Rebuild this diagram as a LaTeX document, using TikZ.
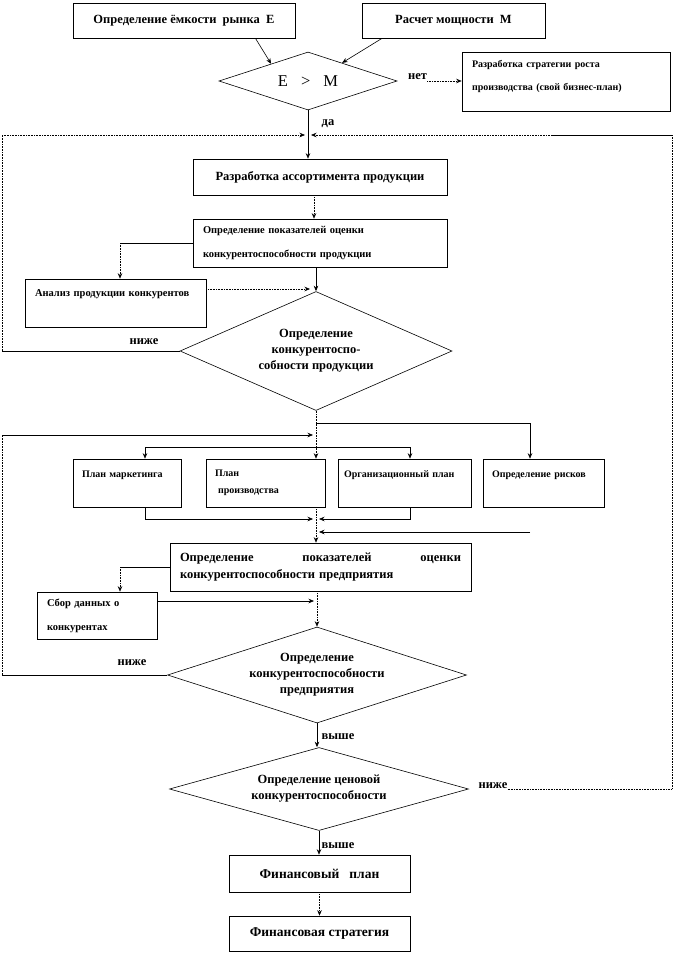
\documentclass[tikz,border=0pt]{standalone}
\usepackage{fontspec}
\setmainfont{Liberation Serif}
\usepackage{tikz}
\usetikzlibrary{shapes.geometric,arrows.meta}

\begin{document}
\begin{tikzpicture}[x=1pt,y=-1pt,
  box/.style={draw,line width=0.6pt,inner xsep=10pt,inner ysep=0pt,align=left},
  plan/.style={box,font=\fontsize{10}{17}\selectfont\bfseries,inner xsep=9pt,minimum height=48pt},
  decision/.style={draw,diamond,line width=0.6pt,inner sep=0pt,align=center},
  bigtxt/.style={font=\fontsize{12.5}{16}\selectfont\bfseries},
  smalltxt/.style={font=\fontsize{10.5}{#1}\selectfont\bfseries},
  smalltxt/.default=24,
  lbl/.style={font=\fontsize{12.5}{14}\selectfont\bfseries,inner sep=0pt},
  wire/.style={line width=0.6pt},
  dotwire/.style={wire,densely dotted},
  conn/.style={wire,-{Stealth[length=5.5pt,width=4.5pt]}},
  dotconn/.style={conn,densely dotted}]
  \useasboundingbox (0,0) rectangle (676,954);

  % upper part
  \node[box,bigtxt,minimum width=222pt,minimum height=35pt] (emk) at (184,20.5) {Определение ёмкости\ \ рынка\ \ E};
  \node[box,bigtxt,minimum width=183pt,minimum height=35pt] (moshch) at (453.5,20.5) {Расчет мощности\ \ M};
  \node[decision,aspect=3,minimum width=178pt,minimum height=58pt,font=\fontsize{16.5}{17}\selectfont] (cmp) at (308,81) {E\hspace{13pt}>\hspace{13pt}M};
  \node[box,font=\fontsize{10}{23}\selectfont\bfseries,text width=188pt,minimum height=59pt] (strat) at (566,81.5) {Разработка стратегии роста\\производства (свой бизнес-план)\\[-10pt]\mbox{}};
  \node[box,bigtxt,minimum width=254pt,minimum height=36pt] (asort) at (320,177) {Разработка ассортимента продукции};
  \node[box,smalltxt,text width=234pt,minimum height=48pt] (pok1) at (320,243) {Определение показателей оценки\\конкурентоспособности продукции};
  \node[box,smalltxt=20,text width=161pt,minimum height=48pt] (anal) at (115.5,303) {Анализ продукции конкурентов\\\mbox{}};
  \node[decision,bigtxt,aspect=2.3,minimum width=272pt,minimum height=119pt] (dprod) at (316,351) {Определение\\конкурентоспо-\\собности продукции};

  % plans
  \node[plan,text width=90pt] (mark) at (127,483) {План маркетинга\\\mbox{}};
  \node[plan,text width=101pt] (prodn) at (265.5,483) {План\\\hspace*{3pt}производства};
  \node[plan,inner xsep=6pt,text width=121pt] (org) at (404.5,483) {Организационный\ план\\\mbox{}};
  \node[plan,text width=103pt] (risk) at (543.5,483) {Определение рисков\\\mbox{}};

  % lower part
  \node[box,font=\fontsize{12.5}{17}\selectfont\bfseries,text width=281pt,minimum height=48pt] (pred) at (320.5,567) {Определение\hfill показателей\hfill оценки\\конкурентоспособности предприятия};
  \node[box,smalltxt,text width=100pt,minimum height=47pt] (sbor) at (97,615.5) {Сбор данных о\\конкурентах};
  \node[decision,bigtxt,aspect=3.1,minimum width=299pt,minimum height=96pt] (dpred) at (317,675) {Определение\\конкурентоспособности\\предприятия};
  \node[decision,bigtxt,aspect=3.6,minimum width=299pt,minimum height=83pt] (dprice) at (319,789) {Определение ценовой\\конкурентоспособности};
  \node[box,font=\fontsize{13.5}{15}\selectfont\bfseries,minimum width=181pt,minimum height=37pt] (fin) at (319.5,873.5) {Финансовый\ \ \ план};
  \node[box,font=\fontsize{13.5}{15}\selectfont\bfseries,minimum width=181pt,minimum height=35pt] (finstr) at (319.5,933.5) {Финансовая стратегия};

  % labels
  \node[lbl] (net) at (417.5,77) {нет};
  \node[lbl] (da) at (328,124) {да};
  \node[lbl] (nizhe1) at (144,342) {ниже};
  \node[lbl] (nizhe2) at (132,663) {ниже};
  \node[lbl] (vyshe1) at (338,737) {выше};
  \node[lbl] (nizhe3) at (493,786) {ниже};
  \node[lbl] (vyshe2) at (338,846) {выше};

  \coordinate (leftA) at (2,135);
  \coordinate (leftB) at (2,435);
  \coordinate (rightA) at (672,135);
  \coordinate (topgap) at (553,135);
  \coordinate (joinL) at (305,135);
  \coordinate (joinR) at (311,135);
  \coordinate (analin) at (310,289);
  \coordinate (loopin) at (313,435);
  \coordinate (inL) at (313,519);
  \coordinate (inR) at (319,519);
  \coordinate (inR2) at (319,532);
  \coordinate (riskout) at (530,532);
  \coordinate (sborin) at (314,601);
  \coordinate (analtop) at ([xshift=4.5pt]anal.north);
  \coordinate (sbortop) at ([xshift=23pt]sbor.north);
  \path (dprod.south) ++(0,12) coordinate (br) ++(0,24) coordinate (bp);

  \draw[conn] (emk.-14) -- (cmp.155);
  \draw[conn] (moshch.-166) -- (cmp.28);
  \draw[dotconn] (cmp.east -| net.east) -- (cmp.east -| strat.west);
  \draw[conn] (cmp.south) -- (cmp.south |- asort.north);
  \draw[wire] (dprod.west) -- (dprod.west -| leftA);
  \draw[dotwire] (dprod.west -| leftA) -- (leftA);
  \draw[dotconn] (leftA) -- (joinL);
  \draw[dotwire] (dprice.east -| nizhe3.east) -| (rightA);
  \draw[wire] (rightA) -- (topgap);
  \draw[dotconn] (topgap) -- (joinR);
  \draw[dotconn] ([xshift=-6pt]asort.south) -- ([xshift=-6pt]pok1.north);
  \draw[wire] (pok1.west) -- (pok1.west -| analtop);
  \draw[dotconn] (pok1.west -| analtop) -- (analtop);
  \draw[dotconn] (anal.east |- analin) -- (analin);
  \draw[conn] (pok1.south -| dprod.north) -- (dprod.north);

  \draw[dotconn] (dprod.south) -- (dprod.south |- prodn.north);
  \draw[conn] (br) -| ([xshift=-13.5pt]risk.north);
  \draw[conn] (bp) -| ([xshift=18pt]mark.north);
  \draw[conn] (bp) -| ([xshift=5.5pt]org.north);
  \draw[conn] ([xshift=18pt]mark.south) |- (inL);
  \draw[conn] ([xshift=5.5pt]org.south) |- (inR);
  \draw[conn] (riskout) -- (inR2);
  \draw[dotconn] (dprod.south |- prodn.south) -- (dprod.south |- pred.north);
  \draw[wire] (dpred.west) -- (dpred.west -| leftB);
  \draw[dotwire] (dpred.west -| leftB) -- (leftB);
  \draw[conn] (leftB) -- (loopin);
  \draw[wire] (pred.west) -- (pred.west -| sbortop);
  \draw[dotconn] (pred.west -| sbortop) -- (sbortop);
  \draw[conn] (sbor.east |- sborin) -- (sborin);
  \draw[dotconn] (pred.south -| dpred.north) -- (dpred.north);
  \draw[conn] (dpred.south) -- (dpred.south |- dprice.north);
  \draw[conn] (dprice.south) -- (dprice.south |- fin.north);
  \draw[dotconn] (fin.south) -- (finstr.north);
\end{tikzpicture}
\end{document}
